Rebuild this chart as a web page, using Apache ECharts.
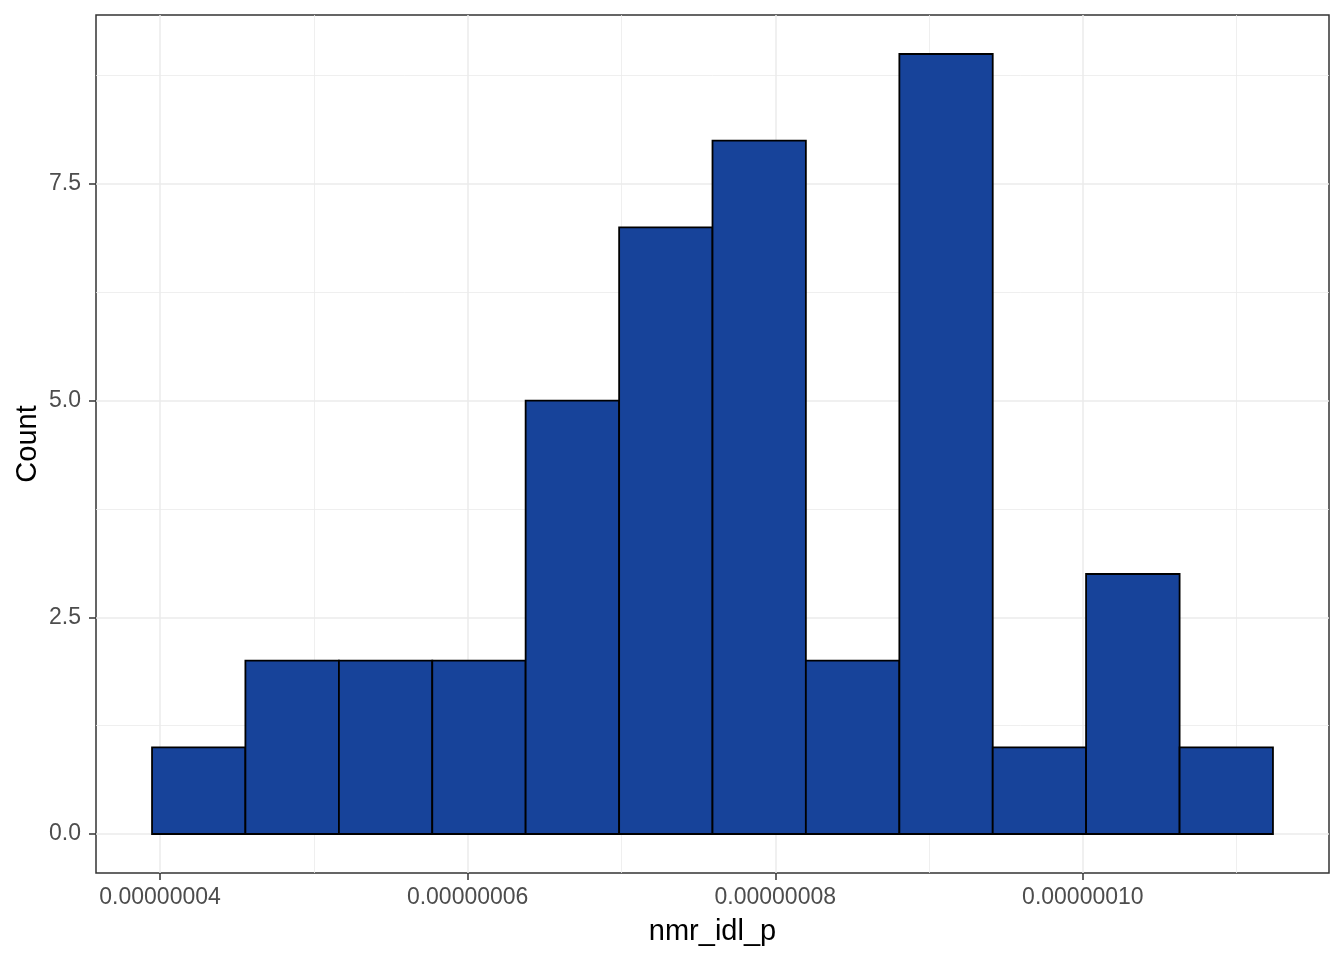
<!DOCTYPE html>
<html>
<head>
<meta charset="utf-8">
<script src="https://cdn.jsdelivr.net/npm/echarts@6/dist/echarts.min.js"></script>
<style>
  html, body { margin: 0; padding: 0; background: #ffffff; }
  #chart { width: 1344px; height: 960px; }
</style>
</head>
<body>
<div id="chart"></div>
<script>
// Histogram bin edges (nmr_idl_p) and counts
const binEdges = [3.948e-8, 4.555e-8, 5.163e-8, 5.770e-8, 6.377e-8, 6.985e-8, 7.592e-8,
                  8.199e-8, 8.807e-8, 9.414e-8, 1.0021e-7, 1.0629e-7, 1.1236e-7];
const counts = [1, 2, 2, 2, 5, 7, 8, 2, 9, 1, 3, 1];

// Tick values
const xMajorTicks = [4e-8, 6e-8, 8e-8, 1e-7];
const xMinorTicks = [5e-8, 7e-8, 9e-8, 1.1e-7];
const yMajorTicks = [0, 2.5, 5, 7.5];
const yMinorTicks = [1.25, 3.75, 6.25, 8.75];

const xTitle = 'nmr_idl_p';
const yTitle = 'Count';

// The x axis works in units of 1e-8 to avoid precision issues with tiny numbers
const XU = 1e-8;
const toAxis = v => v / XU;

// ggplot-like expansion (5%)
const xLo = toAxis(binEdges[0]), xHi = toAxis(binEdges[binEdges.length - 1]);
const xPad = (xHi - xLo) * 0.05;
const yHi = Math.max(...counts);
const yPad = yHi * 0.05;

const histData = counts.map((c, i) => [toAxis(binEdges[i]), toAxis(binEdges[i + 1]), c]);

const gridLines = [];
xMinorTicks.forEach(v => gridLines.push({ xAxis: toAxis(v), lineStyle: { color: '#EBEBEB', width: 0.8, type: 'solid' } }));
yMinorTicks.forEach(v => gridLines.push({ yAxis: v, lineStyle: { color: '#EBEBEB', width: 0.8, type: 'solid' } }));
xMajorTicks.forEach(v => gridLines.push({ xAxis: toAxis(v), lineStyle: { color: '#EBEBEB', width: 1.5, type: 'solid' } }));
yMajorTicks.forEach(v => gridLines.push({ yAxis: v, lineStyle: { color: '#EBEBEB', width: 1.5, type: 'solid' } }));

const chart = echarts.init(document.getElementById('chart'), null, { renderer: 'canvas' });
chart.setOption({
  animation: false,
  backgroundColor: '#ffffff',
  textStyle: { fontFamily: 'Liberation Sans, Arial, sans-serif' },
  grid: {
    left: 96, right: 15, top: 15, bottom: 87,
    show: true, backgroundColor: '#ffffff', borderColor: '#333333', borderWidth: 1.5,
    containLabel: false
  },
  xAxis: {
    type: 'value',
    min: xLo - xPad,
    max: xHi + xPad,
    name: xTitle,
    nameLocation: 'middle',
    nameGap: 44,
    nameMoveOverlap: false,
    nameTextStyle: { color: '#000000', fontSize: 29, fontFamily: 'Liberation Sans, Arial, sans-serif' },
    axisLine: { show: false, onZero: false },
    axisTick: { show: true, length: 7, customValues: xMajorTicks.map(toAxis), lineStyle: { color: '#333333', width: 1.5 } },
    axisLabel: {
      show: true, customValues: xMajorTicks.map(toAxis), margin: 13,
      color: '#4D4D4D', fontSize: 23,
      formatter: v => (Number(v) * XU).toFixed(8)
    },
    splitLine: { show: false },
    minorSplitLine: { show: false }
  },
  yAxis: {
    type: 'value',
    min: -yPad,
    max: yHi + yPad,
    name: yTitle,
    nameLocation: 'middle',
    nameGap: 54,
    nameMoveOverlap: false,
    nameRotate: 90,
    nameTextStyle: { color: '#000000', fontSize: 29, fontFamily: 'Liberation Sans, Arial, sans-serif' },
    axisLine: { show: false, onZero: false },
    axisTick: { show: true, length: 7, customValues: yMajorTicks, lineStyle: { color: '#333333', width: 1.5 } },
    axisLabel: {
      show: true, customValues: yMajorTicks, margin: 15,
      color: '#4D4D4D', fontSize: 23,
      formatter: v => Number(v).toFixed(1)
    },
    splitLine: { show: false }
  },
  series: [
    {
      type: 'line',
      data: [],
      z: 1,
      silent: true,
      markLine: {
        silent: true,
        z: 1,
        symbol: ['none', 'none'],
        label: { show: false },
        animation: false,
        data: gridLines
      }
    },
    {
      type: 'custom',
      z: 10,
      data: histData,
      encode: { x: [0, 1], y: 2 },
      renderItem: function (params, api) {
        const x0 = api.value(0), x1 = api.value(1), c = api.value(2);
        const pTop = api.coord([x0, c]);
        const pBot = api.coord([x1, 0]);
        return {
          type: 'rect',
          shape: { x: pTop[0], y: pTop[1], width: pBot[0] - pTop[0], height: pBot[1] - pTop[1] },
          style: { fill: '#17439A', stroke: '#000000', lineWidth: 1.8 }
        };
      }
    }
  ]
});
</script>
</body>
</html>
